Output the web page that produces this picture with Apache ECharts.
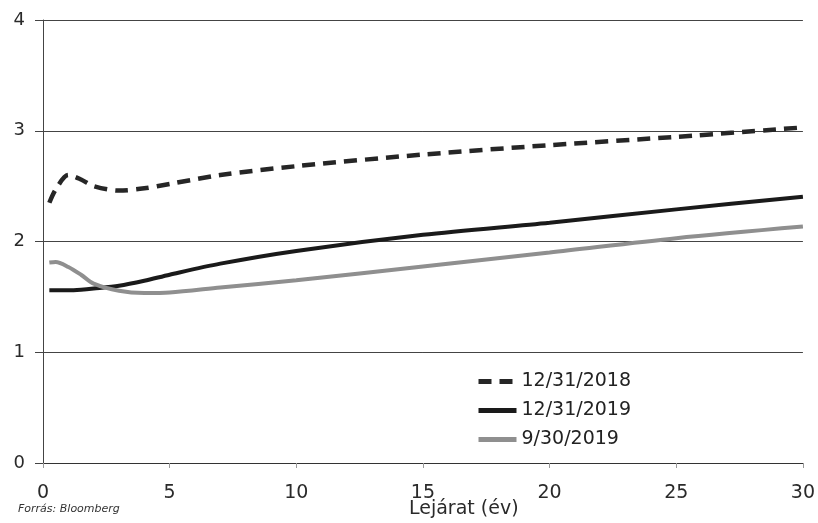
<!DOCTYPE html>
<html>
<head>
<meta charset="utf-8">
<script src="https://cdn.jsdelivr.net/npm/echarts@6/dist/echarts.min.js"></script>
<style>
html,body{margin:0;padding:0;background:#fff;}
#chart{width:818px;height:523px;}
</style>
</head>
<body>
<div id="chart"></div>
<script>
const maturities = [0.25, 0.5, 1, 1.5, 2, 3, 4, 5, 7, 10, 15, 20, 25, 30];
const y2018Dec = [2.35, 2.47, 2.60, 2.56, 2.50, 2.46, 2.48, 2.52, 2.60, 2.68, 2.785, 2.87, 2.945, 3.03];
const y2019Dec = [1.56, 1.56, 1.56, 1.565, 1.575, 1.60, 1.645, 1.70, 1.80, 1.915, 2.06, 2.17, 2.29, 2.405];
const y2019Sep = [1.81, 1.815, 1.77, 1.70, 1.62, 1.555, 1.535, 1.54, 1.585, 1.65, 1.775, 1.90, 2.03, 2.135];
const seriesNames = ['12/31/2018', '12/31/2019', '9/30/2019'];
const xTicks = [0, 5, 10, 15, 20, 25, 30];
const yTicks = [0, 1, 2, 3, 4];
const xTitle = 'Lejárat (év)';
const sourceNote = 'Forrás: Bloomberg';

const pairs = vals => maturities.map((m, i) => [m, vals[i]]);
const FONT = 'DejaVu Sans';

const chart = echarts.init(document.getElementById('chart'));
chart.setOption({
  animation: false,
  backgroundColor: '#ffffff',
  grid: {left: 43, right: 13, top: 20, bottom: 60},
  xAxis: {
    type: 'value', min: xTicks[0], max: xTicks[xTicks.length - 1], interval: 5,
    axisLine: {show: true, lineStyle: {color: '#333', width: 1}},
    axisTick: {show: true, length: 5, lineStyle: {color: '#999'}},
    axisLabel: {color: '#2a2a2a', fontFamily: FONT, fontSize: 19, margin: 21},
    splitLine: {show: false}
  },
  yAxis: {
    type: 'value', min: yTicks[0], max: yTicks[yTicks.length - 1], interval: 1,
    axisLine: {show: true, lineStyle: {color: '#444', width: 1}},
    axisTick: {show: true, length: 8, inside: false, lineStyle: {color: '#444'}},
    axisLabel: {color: '#2a2a2a', fontFamily: FONT, fontSize: 18, margin: 18},
    splitLine: {show: true, lineStyle: {color: '#444', width: 1}}
  },
  legend: {
    orient: 'vertical', left: 471, top: 367,
    itemWidth: 38, itemHeight: 10, itemGap: 10,
    itemStyle: {opacity: 0},
    lineStyle: {width: 5},
    textStyle: {color: '#222', fontFamily: FONT, fontSize: 19},
    data: seriesNames
  },
  graphic: [
    {type: 'text', left: 409, top: 500, style: {text: xTitle, font: '19px "DejaVu Sans"', fill: '#2a2a2a'}},
    {type: 'text', left: 18, top: 504, style: {text: sourceNote, font: 'italic 11px "DejaVu Sans"', fill: '#333'}}
  ],
  series: [
    {name: seriesNames[0], type: 'line', data: pairs(y2018Dec), smooth: 0.3, symbol: 'none',
     lineStyle: {color: '#262626', width: 4.5, type: [13, 8]}, itemStyle: {color: '#262626'}},
    {name: seriesNames[1], type: 'line', data: pairs(y2019Dec), smooth: 0.3, symbol: 'none',
     lineStyle: {color: '#1a1a1a', width: 4}, itemStyle: {color: '#1a1a1a'}},
    {name: seriesNames[2], type: 'line', data: pairs(y2019Sep), smooth: 0.3, symbol: 'none',
     lineStyle: {color: '#8f8f8f', width: 4}, itemStyle: {color: '#8f8f8f'}}
  ]
});
</script>
</body>
</html>
